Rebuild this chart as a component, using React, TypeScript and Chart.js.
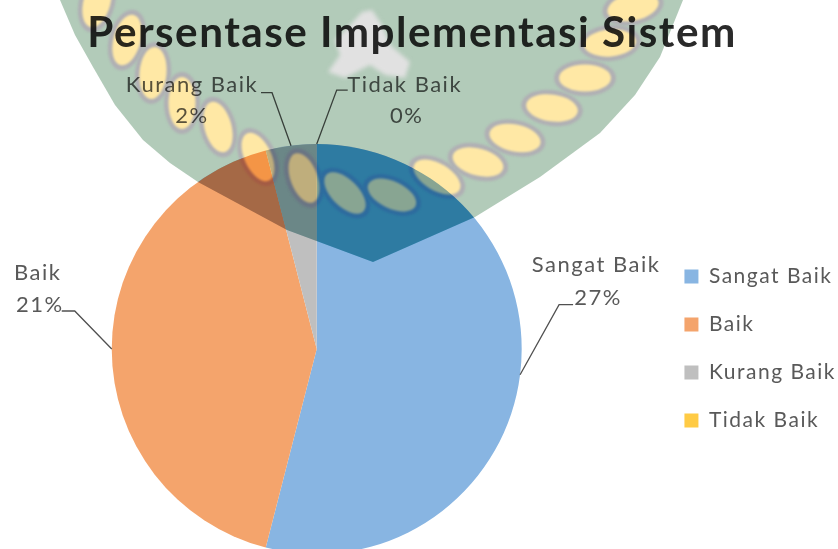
import React, { useEffect, useRef } from "react";
import { Chart, registerables } from "chart.js";

Chart.register(...registerables);

const chartTitle = "Persentase Implementasi Sistem";
const categories = ["Sangat Baik", "Baik", "Kurang Baik", "Tidak Baik"];
const seriesValues = [27, 21, 2, 0];
const seriesColors = ["#88B5E2", "#F4A46C", "#BFBFBF", "#FFCB45"];

const CANVAS_SHIFT = 24;

// Leader line elbows and label centres, relative to the slice's arc anchor.
const labelLayouts = [
  { elbow: [39, -70], end: [53, -70], name: [76, -110], pct: [78, -77] },
  { elbow: [-37, -38], end: [-50, -38], name: [-74, -76], pct: [-72, -44] },
  { elbow: [-19, -53], end: [-30, -53], name: [-99, -61], pct: [-99, -30] },
  { elbow: [20, -54], end: [31, -54], name: [88, -59], pct: [90, -28] },
];

const shieldOutline = [
  [60, 0], [75, 35], [93, 67], [115, 105], [143, 140], [170, 163], [198, 182], [287, 230], [373, 262],
  [475, 217], [540, 177], [600, 133], [635, 95], [660, 57], [683, 0],
];
const crestOutline = [
  [362, 12], [372, 10], [382, 25], [390, 45], [410, 62], [405, 78], [385, 75],
  [370, 65], [345, 78], [328, 72], [340, 55], [335, 40], [350, 25],
];
const ropeLeaves = [
  [97, 2, 105], [127, 40, 105], [153, 73, 95], [182, 103, 90], [218, 127, 75], [258, 157, 65],
  [304, 178, 70], [345, 193, 45], [392, 195, 25], [437, 177, 30], [478, 162, 15],
  [515, 138, 12], [552, 108, 8], [585, 78, 0], [610, 43, -5], [633, 7, -12],
];

function paintCrest(fill: string, ring: string, leaf: string, crest: string) {
  const c = document.createElement("canvas");
  c.width = 838;
  c.height = 549;
  const g = c.getContext("2d")!;
  const poly = (pts: number[][]) => {
    g.beginPath();
    pts.forEach(([x, y], i) => (i ? g.lineTo(x, y) : g.moveTo(x, y)));
    g.closePath();
    g.fill();
  };
  g.fillStyle = fill;
  poly(shieldOutline);
  g.fillStyle = crest;
  g.filter = "blur(2px)";
  poly(crestOutline);
  g.fillStyle = ring;
  g.filter = "blur(1px)";
  ropeLeaves.forEach(([x, y, r]) => {
    g.beginPath();
    g.ellipse(x, y, 31, 18, (r * Math.PI) / 180, 0, Math.PI * 2);
    g.fill();
  });
  g.fillStyle = leaf;
  ropeLeaves.forEach(([x, y, r]) => {
    g.beginPath();
    g.ellipse(x, y, 26, 13.5, (r * Math.PI) / 180, 0, Math.PI * 2);
    g.fill();
  });
  return c;
}

const textSpacing = {
  id: "textSpacing",
  beforeUpdate(chart: any) {
    chart.ctx.letterSpacing = "1.5px";
  },
  beforeDraw(chart: any) {
    chart.ctx.letterSpacing = "1.5px";
  },
  afterLayout(chart: any) {
    chart.titleBlock.right += 2;
    chart.legend.top += 71.5;
    chart.legend.bottom += 71.5;
  },
};

const sliceLabels = {
  id: "sliceLabels",
  afterDatasetsDraw(chart: any) {
    const ctx = chart.ctx;
    const arcs = chart.getDatasetMeta(0).data;
    ctx.save();
    ctx.textAlign = "center";
    ctx.textBaseline = "middle";
    ctx.font = "22px Lato";
    arcs.forEach((arc: any, i: number) => {
      const mid = (arc.startAngle + arc.endAngle) / 2;
      const ax = arc.x + arc.outerRadius * Math.cos(mid);
      const ay = arc.y + arc.outerRadius * Math.sin(mid);
      const l = labelLayouts[i];
      ctx.strokeStyle = "#505050";
      ctx.lineWidth = 1.3;
      ctx.beginPath();
      ctx.moveTo(ax, ay);
      ctx.lineTo(ax + l.elbow[0], ay + l.elbow[1]);
      ctx.lineTo(ax + l.end[0], ay + l.end[1]);
      ctx.stroke();
      ctx.fillStyle = "#595959";
      ctx.fillText(categories[i], ax + l.name[0], ay + l.name[1]);
      ctx.fillText(`${seriesValues[i]}%`, ax + l.pct[0], ay + l.pct[1]);
    });
    ctx.restore();
  },
};

const crestOverlay = {
  id: "crestOverlay",
  afterDraw(chart: any) {
    const ctx = chart.ctx;
    const arc = chart.getDatasetMeta(0).data[0];
    const burn = paintCrest("rgb(160,189,235)", "rgb(160,189,235)", "#ffffff", "rgb(160,189,235)");
    const tint = paintCrest("rgb(178,203,185)", "rgb(176,176,180)", "rgb(255,232,165)", "rgb(225,225,225)");
    ctx.save();
    ctx.beginPath();
    ctx.arc(arc.x, arc.y, arc.outerRadius, 0, Math.PI * 2);
    ctx.clip();
    ctx.globalCompositeOperation = "color-burn";
    ctx.drawImage(burn, CANVAS_SHIFT, 0);
    ctx.restore();
    ctx.save();
    ctx.globalCompositeOperation = "multiply";
    ctx.drawImage(tint, CANVAS_SHIFT, 0);
    ctx.restore();
  },
};

export default function App() {
  const ref = useRef<HTMLCanvasElement>(null);
  useEffect(() => {
    document.body.style.margin = "0";
    const chart = new Chart(ref.current!, {
      type: "pie",
      data: {
        labels: categories,
        datasets: [{ data: seriesValues, backgroundColor: seriesColors, borderWidth: 0 }],
      },
      options: {
        animation: false,
        responsive: false,
        layout: { padding: 0 },
        plugins: {
          tooltip: { enabled: false },
          title: {
            display: true,
            text: chartTitle,
            color: "#2a2a2a",
            font: { family: "Lato", size: 42.2, weight: "bold", lineHeight: 1.2 },
            padding: { top: 8, bottom: 85.4 },
          },
          legend: {
            position: "right",
            labels: {
              boxWidth: 14,
              boxHeight: 14,
              padding: 27,
              color: "#595959",
              font: { family: "Lato", size: 21 },
            },
          },
        },
      } as any,
      plugins: [textSpacing, sliceLabels, crestOverlay],
    });
    return () => chart.destroy();
  }, []);
  return (
    <div style={{ position: "fixed", left: 0, top: 0, width: 838, height: 549, overflow: "hidden", background: "#fff" }}>
      <canvas ref={ref} width={870} height={554} style={{ display: "block", marginLeft: -CANVAS_SHIFT, filter: "blur(0.5px)" }} />
    </div>
  );
}
